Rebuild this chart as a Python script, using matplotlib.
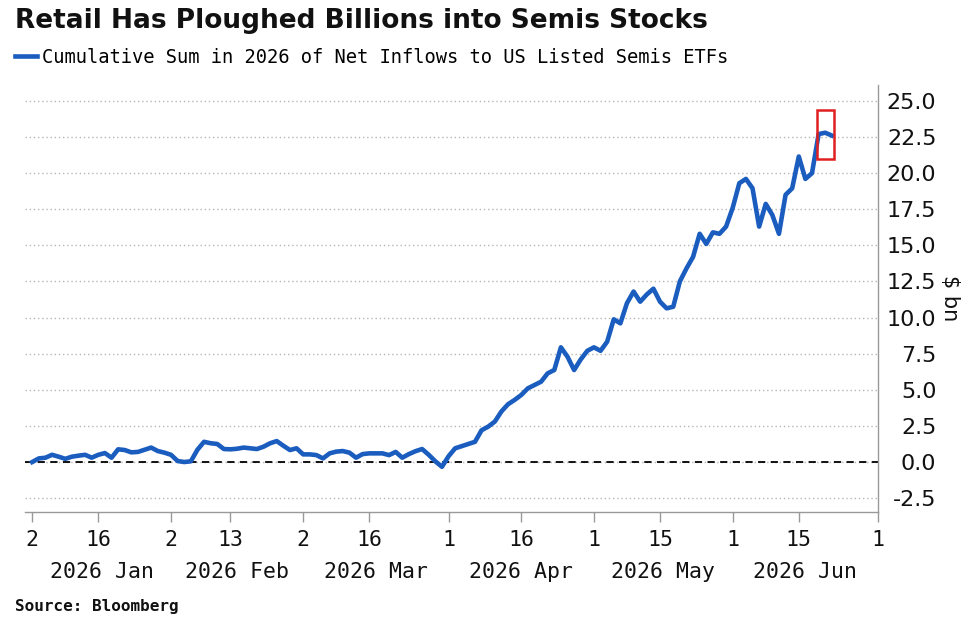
import pandas as pd
import matplotlib
matplotlib.use("Agg")
import matplotlib.pyplot as plt
from matplotlib.patches import Rectangle
from matplotlib.lines import Line2D
import matplotlib.transforms as mtransforms

# 數據 (每個工作日的累計淨流入, 十億美元)
flows = [
    0.0, 0.25, 0.3, 0.5, 0.37, 0.22, 0.37, 0.44, 0.5, 0.3,
    0.5, 0.62, 0.3, 0.88, 0.83, 0.67, 0.7, 0.85, 1.0, 0.76,
    0.65, 0.5, 0.07, 0.0, 0.05, 0.85, 1.4, 1.3, 1.25, 0.9,
    0.88, 0.92, 1.0, 0.95, 0.9, 1.06, 1.3, 1.45, 1.13, 0.83,
    0.95, 0.53, 0.53, 0.48, 0.25, 0.6, 0.72, 0.76, 0.65, 0.3,
    0.55, 0.6, 0.6, 0.6, 0.48, 0.7, 0.3, 0.55, 0.75, 0.9,
    0.5, 0.05, -0.33, 0.4, 0.95, 1.1, 1.25, 1.4, 2.2, 2.45,
    2.8, 3.5, 4.0, 4.3, 4.64, 5.1, 5.33, 5.56, 6.14, 6.37,
    7.94, 7.29, 6.37, 7.1, 7.7, 7.94, 7.7, 8.33, 9.88, 9.6,
    11.0, 11.8, 11.1, 11.6, 12.0, 11.1, 10.64, 10.75, 12.5, 13.4,
    14.2, 15.8, 15.1, 15.9, 15.8, 16.3, 17.6, 19.3, 19.6, 18.95,
    16.3, 17.87, 17.1, 15.8, 18.5, 18.95, 21.15, 19.6, 20.0, 22.7,
    22.8, 22.6,
]
tick_dates = ["2026-01-02", "2026-01-16", "2026-02-02", "2026-02-13", "2026-03-02",
              "2026-03-16", "2026-04-01", "2026-04-16", "2026-05-01", "2026-05-15",
              "2026-06-01", "2026-06-15", "2026-07-01"]
month_starts = ["2026-01-02", "2026-02-02", "2026-03-02", "2026-04-01",
                "2026-05-01", "2026-06-01", "2026-07-01"]
month_labels = ["2026 Jan", "2026 Feb", "2026 Mar", "2026 Apr", "2026 May", "2026 Jun"]
yticks = [-2.5, 0.0, 2.5, 5.0, 7.5, 10.0, 12.5, 15.0, 17.5, 20.0, 22.5, 25.0]

# 工作日座標軸
days = pd.bdate_range("2026-01-02", "2026-07-01")
pos = {d: i for i, d in enumerate(days)}
x = list(range(len(flows)))
tick_pos = [pos[pd.Timestamp(d)] for d in tick_dates]
tick_lab = [str(pd.Timestamp(d).day) for d in tick_dates]
ms_pos = [pos[pd.Timestamp(d)] for d in month_starts]

blue = "#1a5dbf"
mono = "DejaVu Sans Mono"

fig = plt.figure(figsize=(9.75, 6.27), dpi=100)
ax = fig.add_axes([0.0256, 0.1834, 0.875, 0.681])

ax.plot(x, flows, color=blue, lw=3.3, solid_joinstyle="round", zorder=3)
ax.axhline(0, color="black", ls=(0, (4, 3)), lw=1.3, zorder=2)

ax.set_xlim(-1.1, tick_pos[-1])
ax.set_ylim(-3.46, 26.1)

ax.yaxis.tick_right()
ax.set_yticks(yticks)
ax.set_yticklabels([f"{v:.1f}" for v in yticks], ha="right")
ax.tick_params(axis="y", length=0, pad=42, labelsize=16, labelcolor="#111111")
ax.yaxis.set_label_position("right")
ax.set_ylabel("$ bn", rotation=270, fontsize=15, labelpad=17, color="#111111")

ax.set_xticks(tick_pos)
ax.set_xticklabels(tick_lab, fontfamily=mono)
ax.tick_params(axis="x", length=7, width=1, color="#999999", pad=6,
               labelsize=15.5, labelcolor="#111111")

ax.grid(axis="y", ls=(0, (1, 2)), color="#b5b5b5", lw=1)
for s in ["left", "top"]:
    ax.spines[s].set_visible(False)
for s in ["right", "bottom"]:
    ax.spines[s].set_color("#999999")
    ax.spines[s].set_linewidth(1)

# 月份標籤
trans = mtransforms.blended_transform_factory(ax.transData, ax.transAxes)
for i, lab in enumerate(month_labels):
    xc = (ms_pos[i] + ms_pos[i + 1]) / 2
    ax.text(xc, -0.1405, lab, transform=trans, ha="center", va="center",
            fontsize=15.5, fontfamily=mono, color="#111111")

# 紅框標示最後幾天
last = len(flows) - 1
ax.add_patch(Rectangle((last - 2.2, flows[-1] - 1.6), 2.6, 3.4, fill=False,
                       edgecolor="#e02020", lw=1.8, zorder=4))

fig.text(0.0154, 0.967, "Retail Has Ploughed Billions into Semis Stocks",
         fontsize=19, fontweight="bold", va="center", ha="left", color="#111111")
handle = Line2D([], [], color=blue, lw=3.3)
fig.legend([handle], ["Cumulative Sum in 2026 of Net Inflows to US Listed Semis ETFs"],
           loc="center left", bbox_to_anchor=(0.0154, 0.909), frameon=False,
           borderpad=0, borderaxespad=0,
           handlelength=1.17, handletextpad=0.25, prop={"family": mono, "size": 13.5})
fig.text(0.0154, 0.032, "Source: Bloomberg", fontsize=11.5, fontweight="bold",
         fontfamily=mono, va="center", ha="left", color="#111111")

fig.savefig("out.png", dpi=100)
